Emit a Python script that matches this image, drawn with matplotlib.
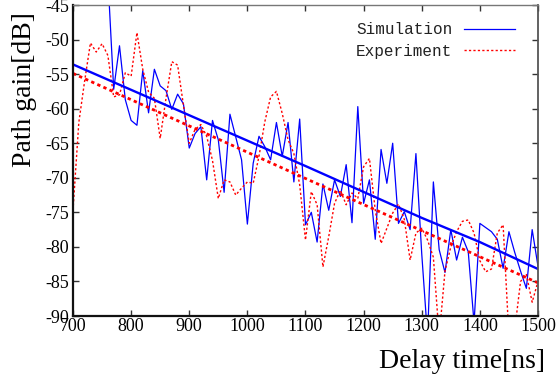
import matplotlib
matplotlib.use("Agg")
import matplotlib.pyplot as plt
import numpy as np

plt.rcParams['axes.unicode_minus'] = False

# delay axis (ns), 10 ns sampling
t_sim = np.arange(760, 1501, 10)
t_exp = np.arange(700, 1501, 10)

# simulated path gain (dB)
sim_gain = [
    -41.0, -57.2, -50.9, -58.7, -61.7, -62.4, -54.5, -60.6, -54.3, -56.7,
    -57.4, -60.1, -57.9, -59.3, -65.7, -63.6, -62.6, -70.3, -61.7, -64.5,
    -72.1, -60.8, -64.1, -67.4, -76.7, -67.9, -64.0, -65.5, -67.4, -62.0,
    -66.9, -62.0, -70.6, -61.5, -76.8, -75.0, -79.3, -70.9, -74.7, -70.3,
    -72.7, -68.1, -76.5, -59.7, -73.7, -70.3, -78.9, -65.9, -70.8, -65.0,
    -76.6, -74.9, -77.5, -66.5, -81.0, -93.0, -70.6, -80.4, -83.7, -77.5,
    -81.9, -78.6, -80.7, -91.0, -76.6, -77.2, -77.8, -78.9, -83.1, -77.8,
    -80.8, -83.5, -86.0, -77.5, -82.8,
]

# measured path gain (dB)
exp_gain = [
    -74.7, -62.0, -56.0, -50.5, -51.8, -50.6, -52.3, -58.3, -58.0, -54.8,
    -55.3, -49.0, -54.3, -57.6, -58.5, -64.3, -58.5, -53.2, -53.7, -59.5,
    -65.0, -63.0, -62.3, -64.0, -67.5, -73.0, -70.3, -70.6, -72.5, -71.5,
    -70.6, -70.8, -66.9, -61.9, -58.3, -57.5, -60.7, -64.5, -66.5, -71.0,
    -79.0, -72.0, -73.9, -82.9, -78.5, -73.7, -71.8, -73.9, -72.2, -73.0,
    -68.4, -67.2, -74.7, -79.5, -77.3, -75.1, -73.8, -76.0, -81.9, -78.0,
    -77.3, -79.0, -81.5, -93.0, -83.5, -80.0, -77.8, -76.3, -76.1, -78.0,
    -82.0, -83.6, -83.2, -78.0, -76.8, -93.0, -92.0, -85.0, -84.0, -88.0,
    -85.0,
]

# fitted trends (dB)
t_fit_sim = [700, 1100, 1300, 1400, 1500]
fit_sim = [-53.6, -68.3, -75.8, -79.3, -83.2]
t_fit_exp = [700, 1100, 1500]
fit_exp = [-54.9, -70.1, -85.2]

fig = plt.figure(figsize=(5.56, 3.85), dpi=100)
ax = fig.add_axes([0.1313, 0.1792, 0.8363, 0.8078])

blue = '#0000ff'
red = '#ff0000'
dots = (0, (1.6, 1.6))

ax.plot(t_sim, sim_gain, color=blue, lw=0.9, label='Simulation')
ax.plot(t_exp, exp_gain, color=red, lw=1.0, ls=dots, label='Experiment')
ax.plot(t_fit_sim, fit_sim, color=blue, lw=1.7)
ax.plot(t_fit_exp, fit_exp, color=red, lw=2.0, ls=(0, (1.2, 1.2)))

ax.set_xlim(700, 1500)
ax.set_ylim(-90, -45)
ax.set_xticks(np.arange(700, 1501, 100))
ax.set_yticks(np.arange(-90, -44, 5))

for lab in ax.get_xticklabels() + ax.get_yticklabels():
    lab.set_family('Liberation Serif')
    lab.set_fontsize(13)
ax.tick_params(direction='in', length=4.5, width=1, top=True, right=True,
               colors='#333333', labelcolor='black')
ax.tick_params(axis='x', pad=1.5)
ax.tick_params(axis='y', pad=3)

ax.spines['left'].set_linewidth(1.6)
ax.spines['bottom'].set_linewidth(1.6)
ax.spines['left'].set_color('#111111')
ax.spines['bottom'].set_color('#111111')
ax.spines['top'].set_color('#777777')
ax.spines['right'].set_color('#555555')
ax.spines['top'].set_linewidth(1.0)
ax.spines['right'].set_linewidth(1.3)

leg = ax.legend(loc='upper right', bbox_to_anchor=(0.950, 0.945), frameon=False,
                markerfirst=False, handlelength=3.2, handletextpad=0.7,
                borderaxespad=0, borderpad=0, labelspacing=0.42,
                prop={'family': 'Liberation Mono', 'size': 11.5})
for txt in leg.get_texts():
    txt.set_color('#222222')

fig.text(25 / 556, 1 - 90 / 385, 'Path gain[dB]', rotation=90, ha='center',
         va='center', fontsize=20, family='Liberation Serif')
fig.text(545 / 556, 1 - 362 / 385, 'Delay time[ns]', ha='right', va='center',
         fontsize=20, family='Liberation Serif')

fig.savefig('out.png', dpi=100)
